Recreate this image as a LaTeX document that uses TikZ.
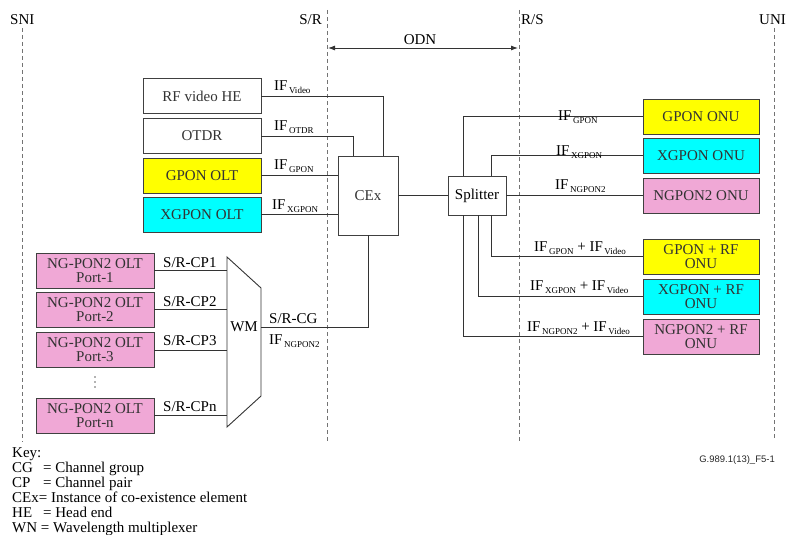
\documentclass[tikz,border=0pt]{standalone}
\usepackage{fontspec}
\setmainfont{Liberation Serif}
\newfontfamily\sansf{Liberation Sans}
\usetikzlibrary{arrows.meta}
\definecolor{pinkbox}{RGB}{240,168,214}
\definecolor{yelbox}{RGB}{255,255,0}
\definecolor{cyanbox}{RGB}{0,255,255}
\newcommand\ifsub[1]{IF\raisebox{-3pt}{\fontsize{9}{9}\selectfont\,#1}}
\begin{document}
\begin{tikzpicture}[x=1pt,y=-1pt,font=\fontsize{15}{14}\selectfont,
  box/.style={draw=black!75,line width=0.9pt,minimum width=118pt,minimum height=35pt,inner sep=0pt,align=center,text=black!80},
  onubox/.style={box,minimum width=116pt},
  wire/.style={draw=black!80,line width=0.9pt},
  lbl/.style={inner sep=0pt,anchor=base west},
  refline/.style={draw=black!55,line width=0.9pt,dash pattern=on 4pt off 3pt},
  keyline/.style={inner sep=0pt,anchor=base west}]
\useasboundingbox (0,0) rectangle (787,535);

% reference lines
\coordinate (sniT) at (22,28);  \coordinate (sniB) at (22,442);
\coordinate (srT) at (327,10);  \coordinate (srB) at (327,442);
\coordinate (rsT) at (519,10);  \coordinate (rsB) at (519,442);
\coordinate (uniT) at (774,28); \coordinate (uniB) at (774,440);
\draw[refline] (sniT) -- (sniB);
\draw[refline] (srT) -- (srB);
\draw[refline] (rsT) -- (rsB);
\draw[refline] (uniT) -- (uniB);
\node[lbl] (sni) at (10,25) {SNI};
\node[inner sep=0pt,anchor=base east] (sr) at (322,25) {S/R};
\node[lbl] (rs) at (521,25) {R/S};
\node[lbl] (uni) at (759,25) {UNI};

% ODN arrow
\coordinate (odnL) at (328,48);
\coordinate (odnR) at (518,48);
\draw[wire,{Latex[length=7pt,width=5pt]}-{Latex[length=7pt,width=5pt]}] (odnL) -- (odnR);
\node[inner sep=0pt,anchor=base] (odn) at (420,45) {ODN};

% OLT side
\node[box] (rf) at (202,96) {RF video HE};
\node[box] (otdr) at (202,136) {OTDR};
\node[box,fill=yelbox] (golt) at (202,175.5) {GPON OLT};
\node[box,fill=cyanbox] (xolt) at (202,214.5) {XGPON OLT};
\node[box,minimum width=60pt,minimum height=79pt] (cex) at (368,195.5) {CEx};
\node[box,minimum width=58pt,minimum height=39pt,text=black] (spl) at (477,195.5) {Splitter};

\draw[wire] (rf.east) -| ([xshift=15pt]cex.north);
\draw[wire] (otdr.east) -| ([xshift=-15pt]cex.north);
\draw[wire] (golt.east) -- (golt.east -| cex.west);
\draw[wire] (xolt.east) -- (xolt.east -| cex.west);
\node[lbl] (lv) at (274,90) {\ifsub{Video}};
\node[lbl] (lo) at (274,130) {\ifsub{OTDR}};
\node[lbl] (lg) at (274,169) {\ifsub{GPON}};
\node[lbl] (lx) at (272,209) {\ifsub{XGPON}};

% NG-PON2 ports and WM
\node[box,fill=pinkbox] (p1) at (95,270.5) {NG-PON2 OLT\\Port-1};
\node[box,fill=pinkbox] (p2) at (95,309.5) {NG-PON2 OLT\\Port-2};
\node[box,fill=pinkbox] (p3) at (95,350) {NG-PON2 OLT\\Port-3};
\node[box,fill=pinkbox] (pn) at (95,415.5) {NG-PON2 OLT\\Port-n};
\fill[black!60] (95,377) circle (0.8pt) (95,382) circle (0.8pt) (95,387) circle (0.8pt);
\draw[wire] (227,257) -- (261,288) -- (261,396) -- (227,427) -- cycle;
\coordinate (wmL) at (227,340);
\coordinate (wmR) at (261,327);
\node[inner sep=0pt] (wm) at (244,327) {WM};
\draw[wire] (p1.east) -- (p1.east -| wmL);
\draw[wire] (p2.east) -- (p2.east -| wmL);
\draw[wire] (p3.east) -- (p3.east -| wmL);
\draw[wire] (pn.east) -- (pn.east -| wmL);
\node[lbl] (c1) at (163,267) {S/R-CP1};
\node[lbl] (c2) at (163,306) {S/R-CP2};
\node[lbl] (c3) at (163,345) {S/R-CP3};
\node[lbl] (cn) at (163,411) {S/R-CPn};
\draw[wire] (wmR) -| (cex.south);
\node[lbl] (cg) at (269,323) {S/R-CG};
\node[lbl] (lng) at (269,344) {\ifsub{NGPON2}};

% splitter
\draw[wire] (cex.east) -- (cex.east -| spl.west);

% ONUs
\node[onubox,fill=yelbox] (gonu) at (701,116.5) {GPON ONU};
\node[onubox,fill=cyanbox] (xonu) at (701,155.5) {XGPON ONU};
\node[onubox,fill=pinkbox] (nonu) at (701,196) {NGPON2 ONU};
\node[onubox,fill=yelbox] (grf) at (701,256.5) {GPON + RF\\ONU};
\node[onubox,fill=cyanbox] (xrf) at (701,296.5) {XGPON + RF\\ONU};
\node[onubox,fill=pinkbox] (nrf) at (701,336.5) {NGPON2 + RF\\ONU};

\draw[wire] ([xshift=-14pt]spl.north) |- (gonu.west);
\draw[wire] ([xshift=14pt]spl.north) |- (xonu.west);
\draw[wire] (spl.east) -- (spl.east -| nonu.west);
\draw[wire] ([xshift=14pt]spl.south) |- (grf.west);
\draw[wire] ([xshift=1pt]spl.south) |- (xrf.west);
\draw[wire] ([xshift=-14pt]spl.south) |- (nrf.west);

\node[lbl] (rg) at (558,120) {\ifsub{GPON}};
\node[lbl] (rx) at (556,155) {\ifsub{XGPON}};
\node[lbl] (rn) at (555,189) {\ifsub{NGPON2}};
\node[lbl] (rgv) at (534,251) {\ifsub{GPON} + \ifsub{Video}};
\node[lbl] (rxv) at (530,290) {\ifsub{XGPON} + \ifsub{Video}};
\node[lbl] (rnv) at (527,331) {\ifsub{NGPON2} + \ifsub{Video}};

% key
\node[keyline] (k0) at (12,457) {Key:};
\node[keyline] (k1) at (12,472) {\makebox[31pt][l]{CG}= Channel group};
\node[keyline] (k2) at (12,487) {\makebox[31pt][l]{CP}= Channel pair};
\node[keyline] (k3) at (12,502) {CEx= Instance of co-existence element};
\node[keyline] (k4) at (12,517) {\makebox[31pt][l]{HE}= Head end};
\node[keyline] (k5) at (12,532) {WN = Wavelength multiplexer};

\node[inner sep=0pt,anchor=base east,font=\sansf\fontsize{9.5}{10}\selectfont,text=black!85] (fig) at (775,462) {G.989.1(13)\_F5-1};
\end{tikzpicture}
\end{document}
